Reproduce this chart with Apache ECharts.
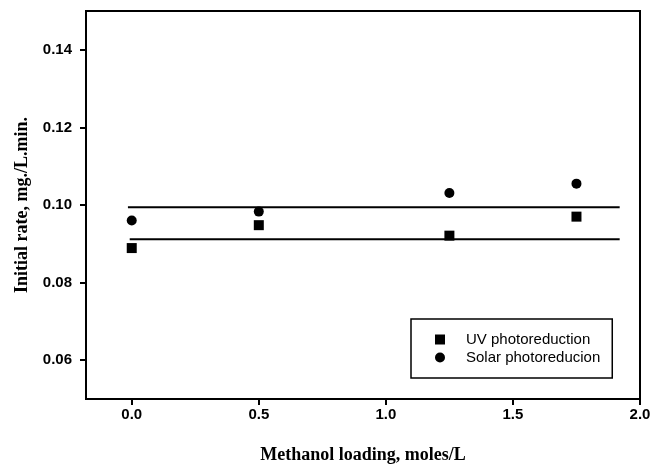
<!DOCTYPE html>
<html>
<head>
<meta charset="utf-8">
<script src="https://cdn.jsdelivr.net/npm/echarts@6/dist/echarts.min.js"></script>
<style>html,body{margin:0;padding:0;background:#fff}#c{width:652px;height:465px}</style>
</head>
<body>
<div id="c"></div>
<script>
// Data
const methanol = [0.0, 0.5, 1.25, 1.75];
const uvRate = [0.0889, 0.0948, 0.0921, 0.0970];
const solarRate = [0.0960, 0.0983, 0.1031, 0.1055];
const uvMean = 0.0912;
const solarMean = 0.0994;
const lineStartX = [-0.008, -0.015];
const lineEndX = 1.92;
const xTicks = [0.0, 0.5, 1.0, 1.5, 2.0];
const yTicks = [0.06, 0.08, 0.10, 0.12, 0.14];
const seriesNames = ['UV photoreduction', 'Solar photoreducion'];

const chart = echarts.init(document.getElementById('c'), null, {renderer: 'canvas'});
const tickFont = {fontFamily: 'Liberation Sans, Arial, sans-serif', fontWeight: 'bold', fontSize: 15, color: '#000'};
const titleFont = {fontFamily: 'Liberation Serif, Times New Roman, serif', fontWeight: 'bold', fontSize: 18, color: '#000'};

chart.setOption({
  animation: false,
  grid: {left: 86, top: 11, right: 12, bottom: 66, outerBoundsMode: 'none', containLabel: false,
         show: true, borderColor: '#000', borderWidth: 2, backgroundColor: 'transparent'},
  xAxis: {
    type: 'value', min: -0.18, max: 2.0,
    name: 'Methanol loading, moles/L', nameLocation: 'middle', nameGap: 47, nameTextStyle: titleFont,
    axisLine: {show: true, onZero: false, lineStyle: {color: '#000', width: 2}},
    axisTick: {show: true, inside: false, length: 6, lineStyle: {color: '#000', width: 2}, customValues: xTicks},
    axisLabel: Object.assign({margin: 8, customValues: xTicks, formatter: v => v.toFixed(1)}, tickFont),
    splitLine: {show: false}
  },
  yAxis: {
    type: 'value', min: 0.05, max: 0.15,
    name: 'Initial rate, mg./L.min.', nameLocation: 'middle', nameGap: 55, nameRotate: 90, nameTextStyle: titleFont,
    axisLine: {show: true, onZero: false, lineStyle: {color: '#000', width: 2}},
    axisTick: {show: true, inside: false, length: 6, lineStyle: {color: '#000', width: 2}, customValues: yTicks},
    axisLabel: Object.assign({margin: 14, customValues: yTicks, formatter: v => v.toFixed(2)}, tickFont),
    splitLine: {show: false}
  },
  legend: {
    orient: 'vertical', left: 411, top: 319,
    padding: [13, 12, 13, 24], itemGap: 3,
    borderColor: '#000', borderWidth: 1.5,
    itemWidth: 10, itemHeight: 10,
    data: [{name: seriesNames[0], icon: 'rect'}, {name: seriesNames[1], icon: 'circle'}],
    formatter: n => '{g|}' + n,
    itemStyle: {opacity: 1},
    textStyle: {fontFamily: 'Liberation Sans, Arial, sans-serif', fontSize: 15, color: '#000', lineHeight: 15,
      rich: {g: {width: 16}}}
  },
  series: [
    {name: seriesNames[0], type: 'scatter', symbol: 'rect', symbolSize: 10, itemStyle: {color: '#000', opacity: 1},
     data: methanol.map((x, i) => [x, uvRate[i]]), z: 3},
    {name: seriesNames[1], type: 'scatter', symbol: 'circle', symbolSize: 10, itemStyle: {color: '#000', opacity: 1},
     data: methanol.map((x, i) => [x, solarRate[i]]), z: 3},
    {type: 'line', showSymbol: false, symbol: 'none', lineStyle: {color: '#000', width: 2}, silent: true,
     data: [[lineStartX[0], uvMean], [lineEndX, uvMean]]},
    {type: 'line', showSymbol: false, symbol: 'none', lineStyle: {color: '#000', width: 2}, silent: true,
     data: [[lineStartX[1], solarMean], [lineEndX, solarMean]]}
  ]
});
</script>
</body>
</html>
